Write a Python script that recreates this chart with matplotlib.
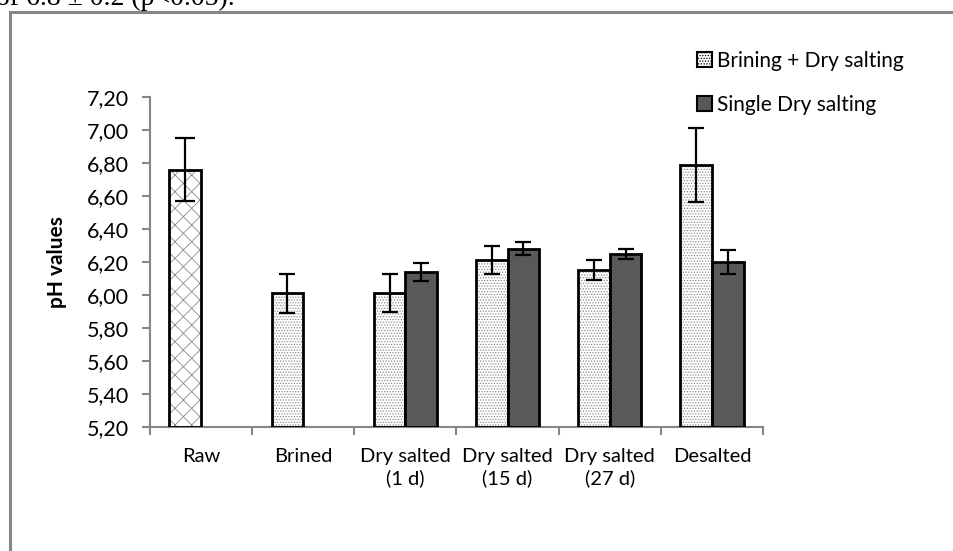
import numpy as np
import matplotlib.pyplot as plt
from matplotlib.patches import Patch, Rectangle

# -----------------------------
# Data
# -----------------------------
categories = ["Raw", "Brined", "Dry salted\n(1 d)", "Dry salted\n(15 d)",
              "Dry salted\n(27 d)", "Desalted"]
brining_dry = [6.76, 6.01, 6.01, 6.21, 6.15, 6.79]
brining_dry_err = [0.19, 0.12, 0.115, 0.085, 0.06, 0.225]
single_dry = [np.nan, np.nan, 6.14, 6.28, 6.25, 6.20]
single_dry_err = [np.nan, np.nan, 0.055, 0.04, 0.03, 0.07]
series_names = ["Brining + Dry salting", "Single Dry salting"]
yticks = np.arange(5.2, 7.21, 0.2)

plt.rcParams['font.family'] = ['Lato', 'DejaVu Sans']
plt.rcParams['hatch.linewidth'] = 0.6

fig = plt.figure(figsize=(9.54, 5.51), dpi=100)
W, H = 954, 551
ax = fig.add_axes([150 / W, 1 - 427 / H, 613 / W, 330 / H])

x = np.arange(len(categories))
bw = 0.31
grey_axis = "#868686"

# light series: dotted fill, Raw gets the wave pattern
for i, (v, e) in enumerate(zip(brining_dry, brining_dry_err)):
    hatch = "xx" if i == 0 else "......"
    ax.bar(x[i] - bw / 2, v - 5.2, bw, bottom=5.2, color="white",
           hatch=hatch, edgecolor="#8c8c8c", linewidth=0, zorder=2)
    ax.bar(x[i] - bw / 2, v - 5.2, bw, bottom=5.2, fill=False,
           edgecolor="black", linewidth=2, zorder=3)
    ax.errorbar(x[i] - bw / 2, v, yerr=e, color="black", capsize=6 if i else 7.5,
                elinewidth=1.6, capthick=1.6, zorder=4)

# dark series
for i, (v, e) in enumerate(zip(single_dry, single_dry_err)):
    if np.isnan(v):
        continue
    ax.bar(x[i] + bw / 2, v - 5.2, bw, bottom=5.2, color="#595959",
           edgecolor="black", linewidth=2, zorder=3)
    ax.errorbar(x[i] + bw / 2, v, yerr=e, color="black", capsize=5.5,
                elinewidth=1.6, capthick=1.6, zorder=4)

ax.set_xlim(-0.5, len(categories) - 0.5)
ax.set_ylim(5.2, 7.2)
ax.set_yticks(yticks)
ax.set_yticklabels([f"{t:.2f}".replace(".", ",") for t in yticks], fontsize=15.5)
ax.set_xticks(x)
ax.set_xticklabels(categories, fontsize=14.5, linespacing=1.3)
ax.tick_params(axis="x", length=0, pad=15)
ax.tick_params(axis="y", length=6, width=1.5, color=grey_axis, pad=9)
# category boundary ticks
ax.set_xticks(np.arange(-0.5, len(categories)), minor=True)
ax.tick_params(axis="x", which="minor", length=6, width=1.5, color=grey_axis)

for s in ["top", "right"]:
    ax.spines[s].set_visible(False)
for s in ["left", "bottom"]:
    ax.spines[s].set_color(grey_axis)
    ax.spines[s].set_linewidth(1.5)

ax.set_ylabel("pH values", fontsize=15, fontweight="bold", labelpad=14)

handles = [Patch(facecolor="white", edgecolor="black", hatch="......", linewidth=1.5),
           Patch(facecolor="#595959", edgecolor="black", linewidth=1.5)]
fig.legend(handles, series_names, loc="upper left",
           bbox_to_anchor=(678 / W, 1 - 32 / H), frameon=False, fontsize=15,
           handlelength=0.75, handleheight=0.75, handletextpad=0.2,
           labelspacing=1.15)

# outer chart frame (cut off at right and bottom)
fig.patches.append(Rectangle((10 / W, -0.05), 1.1, 1 - 12 / H + 0.05,
                             transform=fig.transFigure, fill=False,
                             edgecolor=grey_axis, linewidth=2.2, clip_on=False))

# fragment of the surrounding document text
fig.text(-4 / W, 1 - 5 / H, "of 6.8 \u00b1 0.2 (p<0.05).", fontsize=20,
         family="Liberation Serif", va="baseline", ha="left")

fig.savefig("out.png", dpi=100)
